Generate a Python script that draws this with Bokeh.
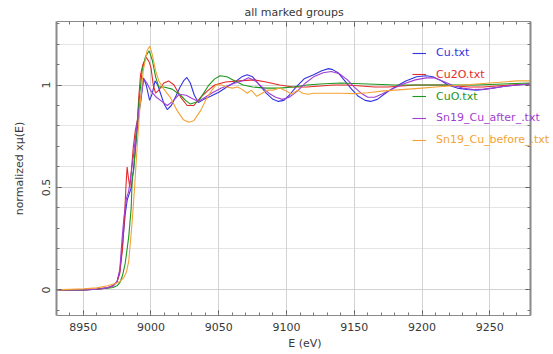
from bokeh.plotting import figure
from bokeh.models import (Range1d, LinearAxis, Legend, LegendItem, SingleIntervalTicker,
                          Grid, BoxAnnotation, CustomLabelingPolicy)
from bokeh.embed import file_html
from bokeh.resources import INLINE

# ---- data ----
series_names = ["Cu.txt", "Cu2O.txt", "CuO.txt", "Sn19_Cu_after_.txt", "Sn19_Cu_before_.txt"]
series_colors = ["#3434e0", "#e42a2a", "#1c961c", "#a23ed2", "#f4a236"]

cu_e = [8930, 8950, 8960, 8968, 8972, 8975, 8977, 8979, 8981, 8982.5,
        8984, 8985.5, 8987.3, 8989.8, 8991.5, 8992.5, 8994.5, 8996.5, 8999, 9001,
        9003, 9005, 9007, 9009.5, 9012, 9015, 9018, 9021.5, 9024, 9026.5,
        9029, 9032, 9035, 9039, 9044, 9050, 9056, 9062, 9067, 9071,
        9075, 9080, 9085, 9090, 9094, 9098, 9102, 9107, 9113, 9120,
        9126, 9131, 9134, 9138, 9143, 9148, 9153, 9158, 9162, 9167,
        9173, 9180, 9188, 9196, 9203, 9208, 9213, 9219, 9226, 9233,
        9240, 9246, 9252, 9260, 9270, 9280]
cu_mu = [0.0, 0.0, 0.003, 0.01, 0.02, 0.04, 0.09, 0.22, 0.37, 0.44,
         0.47, 0.5, 0.6, 0.78, 0.88, 0.92, 1.035, 1.0, 0.925, 0.96,
         1.02, 1.0, 0.96, 0.91, 0.88, 0.9, 0.94, 0.99, 1.02, 1.037,
         1.01, 0.95, 0.915, 0.93, 0.945, 0.965, 0.99, 1.015, 1.04, 1.05,
         1.04, 1.0, 0.96, 0.93, 0.92, 0.925, 0.95, 0.99, 1.03, 1.05,
         1.07, 1.08, 1.075, 1.06, 1.02, 0.98, 0.945, 0.925, 0.92, 0.93,
         0.96, 0.99, 1.02, 1.04, 1.045, 1.04, 1.025, 1.0, 0.985, 0.978,
         0.975, 0.978, 0.985, 0.993, 1.0, 1.005]

cu2o_e = [8930, 8950, 8960, 8968, 8972, 8975, 8977, 8979, 8980.5, 8981.5,
          8982.4, 8983.3, 8984.4, 8985.5, 8987, 8988.5, 8990, 8991, 8992.3, 8994,
          8996.5, 8998.5, 9000, 9001.7, 9003.4, 9005.8, 9009.5, 9013, 9017, 9022,
          9026.7, 9031.6, 9036.6, 9041.5, 9047, 9055, 9065, 9076, 9085, 9095,
          9105, 9115, 9125, 9135, 9145, 9155, 9165, 9175, 9185, 9195,
          9205, 9215, 9225, 9235, 9245, 9255, 9265, 9280]
cu2o_mu = [0.0, 0.0, 0.005, 0.01, 0.02, 0.04, 0.08, 0.2, 0.36, 0.5,
           0.6, 0.55, 0.5, 0.58, 0.7, 0.78, 0.83, 0.94, 1.05, 1.1,
           1.135, 1.115, 1.085, 1.0, 0.96, 0.975, 1.01, 1.02, 1.0, 0.94,
           0.9, 0.9, 0.94, 0.97, 1.0, 1.015, 1.02, 1.025, 1.015, 1.0,
           0.99, 0.99, 0.995, 1.0, 1.0, 0.995, 0.99, 0.99, 0.995, 1.0,
           1.0, 1.0, 0.995, 0.99, 0.99, 0.995, 1.0, 1.005]

cuo_e = [8930, 8950, 8960, 8968, 8972, 8975, 8977, 8979, 8981, 8983.6,
         8985.4, 8986.2, 8987.2, 8988.6, 8991, 8993.5, 8996, 8998.7, 9001, 9003.4,
         9005.8, 9009.5, 9015.6, 9021.8, 9025.5, 9029, 9035, 9042.7, 9047, 9051,
         9056, 9062, 9068, 9075, 9085, 9095, 9105, 9115, 9125, 9140,
         9160, 9180, 9200, 9220, 9240, 9260, 9280]
cuo_mu = [0.0, 0.0, 0.003, 0.008, 0.012, 0.02, 0.035, 0.07, 0.13, 0.26,
          0.4, 0.55, 0.58, 0.7, 0.91, 1.07, 1.14, 1.167, 1.12, 1.04,
          0.99, 0.99, 0.98, 0.95, 0.925, 0.907, 0.92, 1.0, 1.03, 1.045,
          1.04, 1.02, 1.0, 0.99, 0.985, 0.985, 0.99, 1.0, 1.005, 1.01,
          1.005, 1.0, 1.0, 1.0, 1.0, 1.005, 1.01]

after_e = [8930, 8950, 8960, 8968, 8972, 8975, 8977, 8978.8, 8980, 8982,
           8983.5, 8985, 8987, 8989.5, 8991.5, 8993, 8994.7, 8997, 9000, 9004,
           9008, 9012, 9016, 9021, 9026, 9030, 9035, 9040, 9046, 9052,
           9060, 9067, 9072, 9077, 9082, 9087, 9092, 9097, 9102, 9108,
           9114, 9120, 9127, 9133, 9139, 9145, 9150, 9155, 9160, 9165,
           9170, 9178, 9186, 9195, 9203, 9209, 9215, 9222, 9230, 9238,
           9245, 9252, 9260, 9270, 9280]
after_mu = [0.0, 0.0, 0.003, 0.01, 0.02, 0.04, 0.1, 0.26, 0.35, 0.45,
            0.48, 0.55, 0.65, 0.8, 0.9, 0.96, 1.03, 1.01, 0.97, 0.94,
            0.92, 0.9, 0.92, 0.955, 0.95, 0.935, 0.92, 0.94, 0.965, 0.985,
            1.005, 1.02, 1.035, 1.02, 0.99, 0.96, 0.94, 0.93, 0.94, 0.97,
            1.01, 1.04, 1.06, 1.066, 1.055, 1.025, 0.99, 0.96, 0.94, 0.94,
            0.955, 0.98, 1.005, 1.025, 1.035, 1.035, 1.02, 1.0, 0.985, 0.978,
            0.98, 0.985, 0.993, 1.0, 1.005]

before_e = [8930, 8950, 8960, 8968, 8973, 8977, 8980, 8982, 8983.6, 8986.2,
            8987.9, 8989.8, 8991.8, 8994.3, 8997.2, 8999.2, 9000.9, 9003.4, 9005.8, 9009.5,
            9014.2, 9019.3, 9024, 9027.9, 9031.6, 9036.6, 9041.5, 9045, 9048, 9052,
            9056, 9060, 9064, 9068, 9071, 9074, 9078, 9082, 9086, 9090,
            9095, 9100, 9104, 9108, 9112, 9116, 9120, 9130, 9140, 9150,
            9160, 9170, 9180, 9190, 9200, 9210, 9220, 9230, 9240, 9250,
            9260, 9270, 9280]
before_mu = [0.0, 0.005, 0.01, 0.02, 0.03, 0.04, 0.06, 0.09, 0.14, 0.34,
             0.5, 0.7, 0.89, 1.07, 1.17, 1.19, 1.15, 1.07, 1.02, 0.98,
             0.94, 0.875, 0.83, 0.818, 0.826, 0.875, 0.94, 0.975, 1.0, 1.0,
             0.99, 0.985, 0.99, 0.975, 0.96, 0.975, 0.945, 0.96, 0.975, 0.975,
             0.985, 0.97, 0.955, 0.975, 0.96, 0.955, 0.96, 0.96, 0.96, 0.958,
             0.962, 0.97, 0.975, 0.98, 0.985, 0.99, 0.995, 1.0, 1.005, 1.01,
             1.015, 1.02, 1.02]

x_start, x_end = 8930.3, 9280.0   # plotted energy window (frame edges)
y_limits = (-0.125, 1.31)
y_tick_labels = {0: "0", 0.5: "0.5", 1: "1"}

title_text = "all marked groups"
x_label = "E (eV)"
y_label = "normalized x\u03bc(E)"

# ---- layout constants ----
W, H = 553, 354
B_LEFT, B_TOP, B_BOTTOM = 56, 21, 39
FRAME_RIGHT = 530                  # where the drawn frame ends; legend text may run past it
FONT = "DejaVu Sans"
TXT = "#383838"
FRAME = "#8a8a8a"

frame_w = W - B_LEFT
ev_per_px = (x_end - x_start) / (FRAME_RIGHT - B_LEFT)
x_view_end = x_start + frame_w * ev_per_px

p = figure(width=W, height=H, output_backend="svg", toolbar_location=None,
           x_range=Range1d(x_start, x_view_end), y_range=Range1d(*y_limits),
           min_border_left=B_LEFT, min_border_right=0, min_border_top=B_TOP,
           min_border_bottom=B_BOTTOM,
           x_axis_location=None, y_axis_location=None)
p.background_fill_color = "white"
p.border_fill_color = "white"
p.outline_line_color = None

p.title.text = title_text
p.title.align = "left"
p.title.offset = 188
p.title.text_font = FONT
p.title.text_font_size = "11px"
p.title.text_font_style = "normal"
p.title.text_color = TXT
p.title.standoff = 5

no_labels = CustomLabelingPolicy(code="return new Set()")


def make_axis(kind, show_labels, **kw):
    if kind == "x":
        ticker = SingleIntervalTicker(interval=50, num_minor_ticks=5)
    else:
        ticker = SingleIntervalTicker(interval=0.5, num_minor_ticks=5)
    ax = LinearAxis(ticker=ticker, **kw)
    ax.axis_line_color = FRAME
    ax.major_tick_line_color = "#555555"
    ax.minor_tick_line_color = "#777777"
    ax.major_tick_in = 5
    ax.major_tick_out = 0
    ax.minor_tick_in = 3
    ax.minor_tick_out = 0
    ax.major_label_text_font = FONT
    ax.major_label_text_color = TXT
    ax.axis_label_text_font = FONT
    ax.axis_label_text_font_size = "11px"
    ax.axis_label_text_font_style = "normal"
    ax.axis_label_text_color = TXT
    if show_labels:
        ax.major_label_text_font_size = "11px"
        ax.major_label_standoff = 7
    else:
        ax.major_label_policy = no_labels
        ax.major_label_text_font_size = "0px"
        ax.major_label_standoff = 0
        ax.axis_label_standoff = 0
    return ax, ticker


xb, xt = make_axis("x", True, bounds=(x_start, x_end))
xb.axis_label = x_label
xb.axis_label_standoff = 3
p.add_layout(xb, "below")

xa, _ = make_axis("x", False, bounds=(x_start, x_end))
p.add_layout(xa, "above")

yl, yt = make_axis("y", True)
yl.axis_label = y_label
yl.axis_label_standoff = 14
yl.major_label_standoff = 6
yl.major_label_overrides = y_tick_labels
yl.major_label_orientation = "parallel"
yl.axis_line_width = 2
p.add_layout(yl, "left")

yr, _ = make_axis("y", False, fixed_location=x_end)
yr.axis_line_width = 2
p.add_layout(yr, "right")

p.add_layout(Grid(dimension=0, ticker=xt, grid_line_color="#d2d2d2"))
p.add_layout(Grid(dimension=1, ticker=yt, grid_line_color="#d2d2d2"))
# blank strip right of the frame edge (room for the overhanging legend text)
p.add_layout(BoxAnnotation(left=x_end, fill_color="white", fill_alpha=1.0,
                           line_color=None, level="underlay"))

all_e = [cu_e, cu2o_e, cuo_e, after_e, before_e]
all_mu = [cu_mu, cu2o_mu, cuo_mu, after_mu, before_mu]

for i, (name, col, xs, ys) in enumerate(zip(series_names, series_colors, all_e, all_mu)):
    r = p.line(xs, ys, line_color=col, line_width=1.1)
    leg = Legend(items=[LegendItem(label=name, renderers=[r])],
                 location=(356, 256 - i * 21.8),
                 padding=0, margin=0, spacing=0,
                 glyph_width=14, glyph_height=12, label_height=12,
                 label_standoff=10,
                 border_line_alpha=0, background_fill_alpha=0,
                 label_text_font=FONT, label_text_font_size="11px",
                 label_text_color=col)
    p.add_layout(leg)

open("out.html", "w").write(file_html(p, INLINE))
